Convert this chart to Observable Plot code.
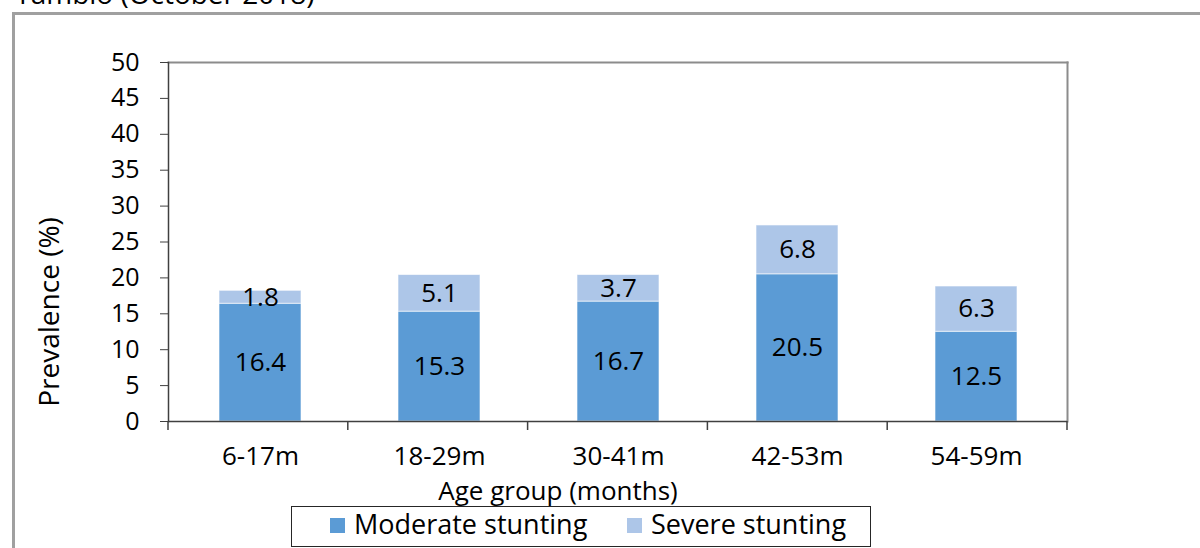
<!DOCTYPE html>
<html>
<head>
<meta charset="utf-8">
<script src="https://cdn.jsdelivr.net/npm/d3@7"></script>
<script src="https://cdn.jsdelivr.net/npm/@observablehq/plot@0.6"></script>
<style>
  html, body { margin: 0; padding: 0; background: #fff; }
  #chart svg { display: block; }
</style>
</head>
<body>
<div id="chart"></div>
<script>
// Stunting prevalence by age group, Yambio (October 2018)
const ageGroups = ["6-17m", "18-29m", "30-41m", "42-53m", "54-59m"];
const moderate = [16.4, 15.3, 16.7, 20.5, 12.5];
const severe = [1.8, 5.1, 3.7, 6.8, 6.3];
const seriesNames = ["Moderate stunting", "Severe stunting"];
const seriesColors = ["#5b9bd5", "#adc6e8"];
const yTicks = [0, 5, 10, 15, 20, 25, 30, 35, 40, 45, 50];

// stacked rows: moderate at the base, severe on top
const rows = [];
ageGroups.forEach((g, i) => {
  rows.push({group: g, series: seriesNames[0], value: moderate[i], y1: 0, y2: moderate[i]});
  rows.push({group: g, series: seriesNames[1], value: severe[i], y1: moderate[i], y2: moderate[i] + severe[i]});
});

const W = 1200, H = 548;
const M = {left: 168, right: 133, top: 62, bottom: 127};
const font = "'Open Sans', sans-serif";
const axisDark = "#404040";
const frameGrey = "#8c8c8c";

const plot = Plot.plot({
  width: W,
  height: H,
  marginLeft: M.left,
  marginRight: M.right,
  marginTop: M.top,
  marginBottom: M.bottom,
  style: {fontFamily: font, fontSize: "25px", color: "#000", background: "#fff", overflow: "visible"},
  x: {domain: ageGroups, paddingInner: 0.544, paddingOuter: 0.272, label: null},
  y: {domain: [0, 50], label: null},
  color: {domain: seriesNames, range: seriesColors},
  marks: [
    Plot.frame({anchor: "top", stroke: frameGrey, strokeWidth: 2}),
    Plot.frame({anchor: "right", stroke: frameGrey, strokeWidth: 2}),
    Plot.barY(rows, {x: "group", y1: "y1", y2: "y2", fill: "series", stroke: "#ffffff", strokeOpacity: 0.6, strokeWidth: 1}),
    Plot.text(rows, {x: "group", y: d => (d.y1 + d.y2) / 2, text: d => d.value.toFixed(1), fill: "#000", fontSize: 26}),
    Plot.axisY({ticks: yTicks, tickSize: 8, tickPadding: 21, tickFormat: d => String(d), stroke: axisDark, fill: "#000", label: null}),
    Plot.axisX({tickSize: 0, tickPadding: 25, fill: "#000", fontSize: 26, label: null}),
    Plot.frame({anchor: "left", stroke: axisDark, strokeWidth: 1.5}),
    Plot.ruleY([0], {stroke: axisDark, strokeWidth: 1.5})
  ]
});

const svg = d3.select(plot);

// category boundary ticks below the x axis
const sx = plot.scale("x");
const step = (sx.range[1] - sx.range[0]) / ageGroups.length;
const bounds = ageGroups.map((g, i) => sx.range[0] + i * step).concat([sx.range[1]]);
const y0 = H - M.bottom;
svg.append("g")
  .selectAll("line")
  .data(bounds)
  .join("line")
  .attr("x1", d => d).attr("x2", d => d)
  .attr("y1", y0).attr("y2", y0 + 9)
  .attr("stroke", axisDark).attr("stroke-width", 1.5);

// outer chart border
svg.insert("rect", ":first-child")
  .attr("x", 13.5).attr("y", 13.5)
  .attr("width", W + 50).attr("height", H + 50)
  .attr("fill", "none").attr("stroke", "#a0a0a0").attr("stroke-width", 3);

// caption line above the border
svg.append("text")
  .attr("x", 15).attr("y", 4)
  .attr("text-anchor", "start")
  .attr("font-size", 28).attr("fill", "#000")
  .text("Yambio (October 2018)");

// axis titles
svg.append("text")
  .attr("x", 558).attr("y", 500)
  .attr("text-anchor", "middle").attr("font-size", 26).attr("fill", "#000")
  .text("Age group (months)");

svg.append("text")
  .attr("transform", "translate(59,312) rotate(-90)")
  .attr("text-anchor", "middle").attr("font-size", 28).attr("fill", "#000")
  .text("Prevalence (%)");

// legend box
const lg = svg.append("g").attr("text-anchor", "start");
lg.append("rect")
  .attr("x", 291.5).attr("y", 506.5).attr("width", 579).attr("height", 40)
  .attr("fill", "#fff").attr("stroke", "#262626").attr("stroke-width", 1);
const legendItems = [
  {name: seriesNames[0], color: seriesColors[0], x: 330},
  {name: seriesNames[1], color: seriesColors[1], x: 627}
];
legendItems.forEach(it => {
  lg.append("rect")
    .attr("x", it.x).attr("y", 518).attr("width", 15).attr("height", 15)
    .attr("fill", it.color);
  lg.append("text")
    .attr("x", it.x + 24).attr("y", 534)
    .attr("text-anchor", "start")
    .attr("font-size", 27).attr("fill", "#000")
    .text(it.name);
});

document.getElementById("chart").appendChild(plot);
</script>
</body>
</html>
